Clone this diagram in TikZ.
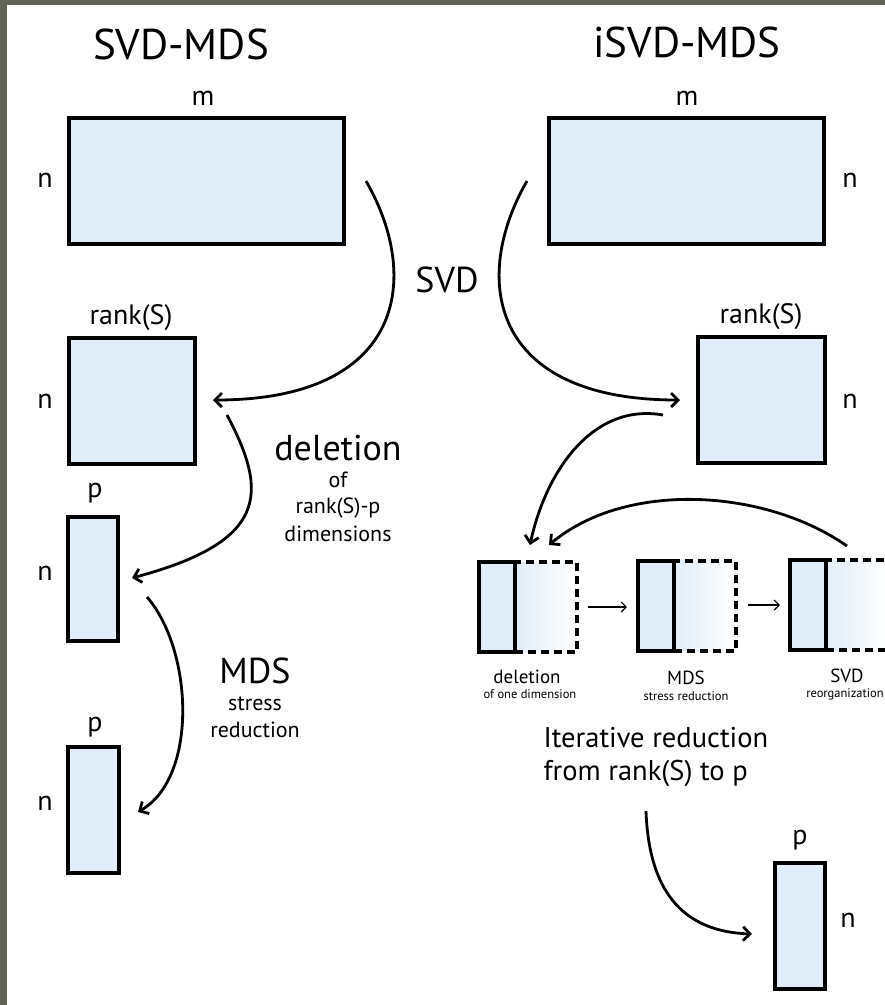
\documentclass[tikz,border=0pt]{standalone}
\usepackage{fontspec}
\setmainfont{PT Sans}
\usetikzlibrary{arrows.meta}
\definecolor{mat_blue}{RGB}{225, 237, 248}
\definecolor{frame_gray}{RGB}{98, 100, 88}
\tikzstyle{mat}=[rectangle,fill=mat_blue,draw=black,line width=4pt,inner sep=0pt]
\tikzstyle{stage}=[rectangle,fill=mat_blue,draw=black,line width=4pt,
  inner sep=0pt,minimum width=36pt,minimum height=90pt]
\tikzstyle{rest}=[rectangle,left color=mat_blue,right color=white,draw=black,
  line width=4pt,dash pattern=on 8pt off 5pt,inner sep=0pt,
  minimum width=62pt,minimum height=90pt]
\tikzstyle{head}=[anchor=base,font=\fontsize{43}{50}\selectfont]
\tikzstyle{lbl}=[anchor=base,font=\fontsize{36}{43}\selectfont]
\tikzstyle{dim}=[anchor=base,font=\fontsize{28}{34}\selectfont]
\tikzstyle{sub}=[anchor=base,font=\fontsize{22}{26}\selectfont]
\tikzstyle{op}=[anchor=base,font=\fontsize{19}{23}\selectfont]
\tikzstyle{opsub}=[anchor=base,font=\fontsize{12.5}{15}\selectfont]
\tikzstyle{note}=[anchor=base west,font=\fontsize{28.5}{34}\selectfont]
\tikzstyle{flow}=[line width=2.8pt,-{Straight Barb[length=7pt,width=14pt]}]
\tikzstyle{link}=[line width=1.2pt,-{Straight Barb[length=5pt,width=10pt]}]
\tikzstyle{none}=[]
\begin{document}
\begin{tikzpicture}[x=1pt, y=-1pt]
            \useasboundingbox (0, 0) rectangle (885, 1005);
            \clip (0, 0) rectangle (885, 1005);
            \fill [frame_gray] (0, 0) rectangle (885, 1005);
            \fill [white] (7, 5) rectangle (885, 1005);
            % SVD-MDS
            \node [style=head] (0) at (181, 59) {SVD-MDS};
            \node [style=mat, minimum width=275.5pt, minimum height=126pt] (2) at (206.25, 181) {};
            \node [style=dim] (3) at (203, 105) {m};
            \node [style=dim] (4) at (45, 187) {n};
            \node [style=mat, minimum width=126pt, minimum height=126pt] (5) at (132, 401) {};
            \node [style=dim] (6) at (131, 324) {rank(S)};
            \node [style=dim] (7) at (45, 408) {n};
            \node [style=mat, minimum width=50pt, minimum height=124pt] (8) at (93, 579) {};
            \node [style=dim] (9) at (95, 497) {p};
            \node [style=dim] (10) at (45, 580) {n};
            \node [style=mat, minimum width=51pt, minimum height=126pt] (11) at (93.5, 810) {};
            \node [style=dim] (12) at (95, 731) {p};
            \node [style=dim] (13) at (45, 810) {n};
            % iSVD-MDS
            \node [style=head] (1) at (687, 57) {iSVD-MDS};
            \node [style=mat, minimum width=275.5pt, minimum height=126pt] (14) at (686.25, 181) {};
            \node [style=dim] (15) at (687, 105) {m};
            \node [style=dim] (16) at (850, 187) {n};
            \node [style=mat, minimum width=127pt, minimum height=126pt] (17) at (761.5, 400) {};
            \node [style=dim] (18) at (761, 323) {rank(S)};
            \node [style=dim] (19) at (850, 408) {n};
            \node [style=mat, minimum width=50pt, minimum height=126pt] (20) at (800, 926) {};
            \node [style=dim] (21) at (800, 844) {p};
            \node [style=dim] (22) at (848, 927) {n};
            % step names
            \node [style=lbl] (23) at (447, 292) {SVD};
            \node [style=lbl] (24) at (338, 460) {deletion};
            \node [style=sub] (25) at (338, 487) {of};
            \node [style=sub] (26) at (338, 513) {rank(S)-p};
            \node [style=sub] (27) at (338, 541) {dimensions};
            \node [style=lbl] (28) at (255, 683) {MDS};
            \node [style=sub] (29) at (255, 710) {stress};
            \node [style=sub] (30) at (255, 737) {reduction};
            % iteration
            \node [style=rest] (31) at (545.5, 607) {};
            \node [style=stage] (32) at (497, 607) {};
            \node [style=rest] (33) at (704.5, 605.5) {};
            \node [style=stage] (34) at (655.5, 605.5) {};
            \node [style=rest] (35) at (857, 605) {};
            \node [style=stage] (36) at (808, 605) {};
            \node [style=op] (37) at (527, 683) {deletion};
            \node [style=opsub] (38) at (530, 698) {of one dimension};
            \node [style=op] (39) at (686, 684) {MDS};
            \node [style=opsub] (40) at (686, 700) {stress reduction};
            \node [style=op] (41) at (847, 682) {SVD};
            \node [style=opsub] (42) at (845, 697) {reorganization};
            \node [style=note] (43) at (540, 747) {Iterative reduction};
            \node [style=note] (44) at (540, 780) {from rank(S) to p};
            % arrow ends
            \node [style=none] (45) at (366, 181) {};
            \node [style=none] (46) at (213, 400) {};
            \node [style=none] (47) at (527, 181) {};
            \node [style=none] (48) at (680, 400) {};
            \node [style=none] (49) at (227, 415) {};
            \node [style=none] (50) at (132, 578) {};
            \node [style=none] (51) at (147, 597) {};
            \node [style=none] (52) at (138, 812) {};
            \node [style=none] (53) at (663, 415) {};
            \node [style=none] (54) at (530, 545) {};
            \node [style=none] (55) at (847, 546) {};
            \node [style=none] (56) at (549, 545) {};
            \node [style=none] (57) at (646, 811) {};
            \node [style=none] (58) at (752, 934) {};
            \node [style=none] (59) at (588, 607) {};
            \node [style=none] (60) at (627, 607) {};
            \node [style=none] (61) at (748, 605) {};
            \node [style=none] (62) at (780, 605) {};
            \draw [style=flow, out=-60, in=0, out looseness=1.07, in looseness=1.83] (45.center) to (46.center);
            \draw [style=flow, out=-120, in=180, out looseness=1.07, in looseness=1.83] (47.center) to (48.center);
            \draw [style=flow, out=-62, in=15, out looseness=1.22, in looseness=1.9] (49.center) to (50.center);
            \draw [style=flow, out=-49, in=30, looseness=0.83] (51.center) to (52.center);
            \draw [style=flow, out=170, in=78, looseness=1] (53.center) to (54.center);
            \draw [style=flow, out=145, in=40, looseness=0.86] (55.center) to (56.center);
            \draw [style=flow, out=-88, in=178, out looseness=1.37, in looseness=1] (57.center) to (58.center);
            \draw [style=link] (59.center) to (60.center);
            \draw [style=link] (61.center) to (62.center);
    \end{tikzpicture}
\end{document}
